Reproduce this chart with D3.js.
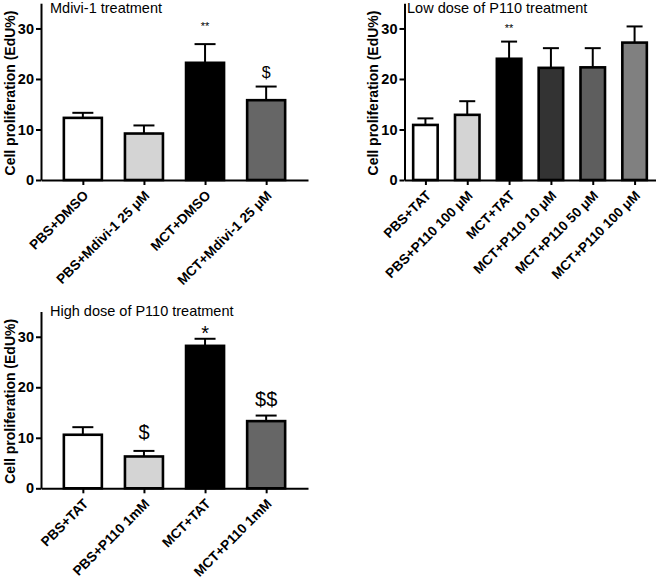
<!DOCTYPE html>
<html><head><meta charset="utf-8">
<script src="https://cdn.jsdelivr.net/npm/d3@7"></script>
<style>body{margin:0;background:#fff}svg{display:block}text{font-family:"Liberation Sans",Arial,sans-serif}</style>
</head><body>
<svg id="c" width="666" height="579"></svg>
<script>
// Panel 1: Mdivi-1 treatment
const p1Cats = ["PBS+DMSO","PBS+Mdivi-1 25 \u03bcM","MCT+DMSO","MCT+Mdivi-1 25 \u03bcM"];
const p1Vals = [12.3, 9.2, 23.2, 15.8];
const p1Err  = [13.3, 10.8, 26.9, 18.5];
const p1Sig  = ["", "", "**", "$"];
const p1Fill = ["#ffffff","#d4d4d4","#000000","#666666"];

// Panel 2: Low dose of P110 treatment
const p2Cats = ["PBS+TAT","PBS+P110 100 \u03bcM","MCT+TAT","MCT+P110 10 \u03bcM","MCT+P110 50 \u03bcM","MCT+P110 100 \u03bcM"];
const p2Vals = [10.9, 12.9, 24.0, 22.2, 22.3, 27.2];
const p2Err  = [12.2, 15.6, 27.4, 26.1, 26.1, 30.4];
const p2Sig  = ["", "", "**", "", "", ""];
const p2Fill = ["#ffffff","#d4d4d4","#000000","#333333","#5e5e5e","#808080"];

// Panel 3: High dose of P110 treatment
const p3Cats = ["PBS+TAT","PBS+P110 1mM","MCT+TAT","MCT+P110 1mM"];
const p3Vals = [10.6, 6.3, 28.2, 13.3];
const p3Err  = [12.1, 7.4, 29.6, 14.4];
const p3Sig  = ["", "$", "*", "$$"];
const p3Fill = ["#ffffff","#d4d4d4","#000000","#666666"];

const yTicks = [0, 10, 20, 30];

const svg = d3.select("#c");

function panel(o){
  const g = svg.append("g");
  const y = d3.scaleLinear().domain([0,35]).range([o.y0, o.y0 - 176.8]);
  const x = d3.scalePoint().domain(o.cats).range([o.x0, o.x1]).padding(o.pad);
  const data = o.cats.map((c,i)=>({c, v:o.vals[i], e:o.err[i], s:o.sig[i], f:o.fill[i]}));

  // bars
  g.selectAll("rect.bar").data(data).join("rect")
    .attr("x", d=>x(d.c)-o.bw/2).attr("width", o.bw)
    .attr("y", d=>y(d.v)).attr("height", d=>y(0)-y(d.v))
    .attr("fill", d=>d.f).attr("stroke","#000").attr("stroke-width",2.6);
  // error bars
  g.selectAll("line.ev").data(data).join("line")
    .attr("x1", d=>x(d.c)).attr("x2", d=>x(d.c))
    .attr("y1", d=>y(d.v)).attr("y2", d=>y(d.e))
    .attr("stroke","#000").attr("stroke-width",2);
  g.selectAll("line.ec").data(data).join("line")
    .attr("x1", d=>x(d.c)-o.cap/2).attr("x2", d=>x(d.c)+o.cap/2)
    .attr("y1", d=>y(d.e)).attr("y2", d=>y(d.e))
    .attr("stroke","#000").attr("stroke-width",2);

  // y axis
  const ya = g.append("g").attr("transform",`translate(${o.x0},0)`)
    .call(d3.axisLeft(y).tickValues(yTicks).tickSize(5).tickSizeOuter(0).tickPadding(2));
  ya.select(".domain").attr("stroke-width",2);
  ya.selectAll(".tick line").attr("stroke-width",2);
  ya.selectAll(".tick text").attr("font-size",14.5).attr("font-weight","bold").attr("fill","#000")
    .attr("font-family",'"Liberation Sans",Arial,sans-serif');

  // x axis
  const xa = g.append("g").attr("transform",`translate(0,${o.y0})`)
    .call(d3.axisBottom(x).tickSize(5).tickSizeOuter(0).tickFormat(""));
  xa.select(".domain").attr("stroke-width",2);
  xa.selectAll(".tick line").attr("stroke-width",2);

  // x labels
  g.selectAll("text.xl").data(data).join("text")
    .attr("transform", d=>`translate(${x(d.c)+3},${o.y0+13}) rotate(-45)`)
    .attr("text-anchor","end").attr("dy","0.35em")
    .attr("font-size",13.6).attr("font-weight","bold").text(d=>d.c);

  // y label
  g.append("text")
    .attr("transform",`translate(${o.x0-31},${o.y0-87}) rotate(-90)`)
    .attr("text-anchor","middle").attr("dy","0.35em")
    .attr("font-size",14).attr("font-weight","bold").text("Cell proliferation (EdU%)");

  // title
  g.append("text").attr("x", o.x0 + o.tdx).attr("y", o.y0 - o.tdy)
    .attr("font-size",14.5).text(o.title);

  // significance
  g.selectAll("text.sig").data(data.filter(d=>d.s)).join("text")
    .attr("x", d=>x(d.c)).attr("y", d=>y(d.e) + o.sigOff(d))
    .attr("text-anchor","middle")
    .attr("font-size", d=>o.sigSize(d)).text(d=>d.s);
}

panel({cats:p1Cats, vals:p1Vals, err:p1Err, sig:p1Sig, fill:p1Fill,
  x0:41, x1:308, y0:180, pad:0.685, bw:38, cap:21, title:"Mdivi-1 treatment", tdx:9, tdy:167,
  sigOff:d=> d.s==="**" ? -14 : -9, sigSize:d=> d.s==="**" ? 11 : 16});
panel({cats:p2Cats, vals:p2Vals, err:p2Err, sig:p2Sig, fill:p2Fill,
  x0:404.5, x1:655.5, y0:180, pad:0.5, bw:24.5, cap:16, title:"Low dose of P110 treatment", tdx:2.5, tdy:167,
  sigOff:d=> -10, sigSize:d=> 11});
panel({cats:p3Cats, vals:p3Vals, err:p3Err, sig:p3Sig, fill:p3Fill,
  x0:41, x1:308, y0:488.3, pad:0.685, bw:38, cap:21, title:"High dose of P110 treatment", tdx:9, tdy:172,
  sigOff:d=> d.s==="*" ? 1 : (d.s==="$$" ? -10 : -12), sigSize:d=> 20});
</script>
</body></html>
